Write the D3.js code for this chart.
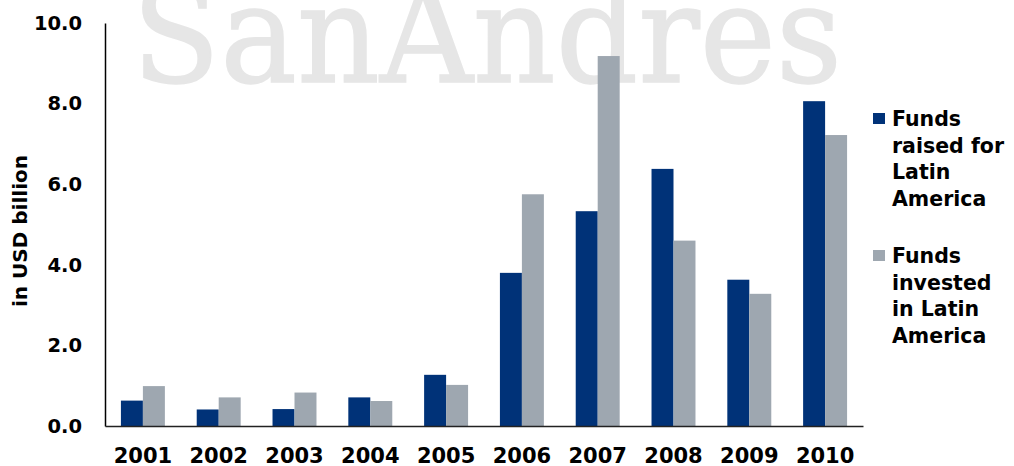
<!DOCTYPE html>
<html>
<head>
<meta charset="utf-8">
<script src="https://cdn.jsdelivr.net/npm/d3@7"></script>
<style>
  body { margin: 0; background: #fff; }
  svg { display: block; font-family: "DejaVu Sans", Verdana, sans-serif; font-weight: bold; }
</style>
</head>
<body>
<svg id="chart" width="1014" height="466"></svg>
<script>
// data
const years = ['2001', '2002', '2003', '2004', '2005', '2006', '2007', '2008', '2009', '2010'];
const fundsRaised = [0.63, 0.41, 0.42, 0.71, 1.27, 3.80, 5.33, 6.38, 3.63, 8.06];
const fundsInvested = [0.99, 0.71, 0.83, 0.62, 1.02, 5.75, 9.18, 4.60, 3.28, 7.22];
const seriesNames = ['Funds raised for Latin America', 'Funds invested in Latin America'];
const legendLines = [['Funds', 'raised for', 'Latin', 'America'], ['Funds', 'invested', 'in Latin', 'America']];
const yTicks = [0, 2, 4, 6, 8, 10];

const colors = ['#003278', '#9ea7b0'];

const svg = d3.select('#chart');

// watermark behind the chart
svg.append('text')
  .attr('x', 132)
  .attr('y', 82)
  .attr('textLength', 710)
  .attr('lengthAdjust', 'spacingAndGlyphs')
  .style('font-family', '"DejaVu Serif", "Liberation Serif", serif')
  .style('font-weight', 'normal')
  .style('font-size', '136px')
  .attr('fill', '#e6e6e6')
  .attr('stroke', '#e6e6e6')
  .attr('stroke-width', 1.5)
  .text('SanAndrés');

const plotLeft = 105, plotRight = 863, plotTop = 23, plotBottom = 426;

const x0 = d3.scaleBand()
  .domain(years)
  .range([plotLeft, plotRight])
  .paddingInner(0.42)
  .paddingOuter(0.21);

const x1 = d3.scaleBand()
  .domain([0, 1])
  .range([0, x0.bandwidth()]);

const y = d3.scaleLinear()
  .domain([0, 10])
  .range([plotBottom, plotTop]);

const rows = years.map((yr, i) => ({ year: yr, values: [fundsRaised[i], fundsInvested[i]] }));

// BARS
svg.append('g')
  .selectAll('g')
  .data(rows)
  .enter().append('g')
  .attr('transform', d => `translate(${x0(d.year)},0)`)
  .selectAll('rect')
  .data(d => d.values.map((v, k) => ({ k, v })))
  .enter().append('rect')
  .attr('x', d => x1(d.k))
  .attr('y', d => y(d.v))
  .attr('width', x1.bandwidth())
  .attr('height', d => y(0) - y(d.v))
  .attr('fill', d => colors[d.k]);

// Y AXIS
const yAxis = svg.append('g')
  .attr('transform', `translate(${plotLeft},0)`)
  .call(d3.axisLeft(y).tickValues(yTicks).tickFormat(d3.format('.1f')).tickSize(0).tickSizeOuter(0).tickPadding(23));
yAxis.select('.domain').attr('stroke', '#000').attr('stroke-width', 1.5);
yAxis.selectAll('text')
  .style('font-family', '"DejaVu Sans", sans-serif')
  .style('font-weight', 'bold')
  .style('font-size', '19.5px')
  .attr('fill', '#000');

// X AXIS
const xAxis = svg.append('g')
  .attr('transform', `translate(0,${plotBottom})`)
  .call(d3.axisBottom(x0).tickSize(0).tickSizeOuter(0).tickPadding(22));
xAxis.select('.domain').attr('stroke', '#222').attr('stroke-width', 1.5);
xAxis.selectAll('text')
  .style('font-family', '"DejaVu Sans", sans-serif')
  .style('font-weight', 'bold')
  .style('font-size', '21px')
  .attr('fill', '#000');

// Y TITLE
svg.append('text')
  .attr('transform', 'translate(27,231) rotate(-90)')
  .attr('text-anchor', 'middle')
  .style('font-size', '20px')
  .attr('fill', '#000')
  .text('in USD billion');

// LEGEND
const legend = svg.append('g')
  .selectAll('g')
  .data(seriesNames)
  .enter().append('g')
  .attr('transform', (d, i) => `translate(873,${113 + i * 137})`);

legend.append('rect')
  .attr('width', 12)
  .attr('height', 11)
  .attr('fill', (d, i) => colors[i]);

legend.append('text')
  .attr('x', 19)
  .attr('y', 13)
  .style('font-size', '20.5px')
  .attr('fill', '#000')
  .selectAll('tspan')
  .data((d, i) => legendLines[i])
  .enter().append('tspan')
  .attr('x', 19)
  .attr('dy', (d, j) => j === 0 ? 0 : 26.7)
  .text(d => d);
</script>
</body>
</html>
